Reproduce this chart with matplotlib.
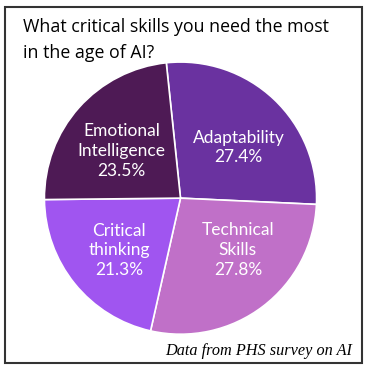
import matplotlib
matplotlib.use("Agg")
import matplotlib.pyplot as plt
from matplotlib.patches import Rectangle

# survey results, clockwise from the top
skills = ["Adaptability", "Technical\nSkills", "Critical\nthinking", "Emotional\nIntelligence"]
shares = [27.4, 27.8, 21.3, 23.5]
colors = ["#6A32A0", "#C070C8", "#A055F0", "#4E1A55"]

title_lines = ["What critical skills you need the most", "in the age of AI?"]
source = "Data from PHS survey on AI"

fig = plt.figure(figsize=(3.68, 3.70), dpi=100)
fig.patch.set_facecolor("white")

# outer frame
fig.patches.append(Rectangle((0.014, 0.019), 0.970, 0.962, transform=fig.transFigure,
                             fill=False, edgecolor="#333333", linewidth=1.5))

for i, line in enumerate(title_lines):
    fig.text(0.0625, 0.9135 - i * 0.0705, line, fontsize=12.8, family="Open Sans",
             color="black", ha="left", va="baseline")

ax = fig.add_axes([0.117, 0.093, 0.747, 0.743])
labels = [f"{s}\n{v:.1f}%" for s, v in zip(skills, shares)]
wedges, texts = ax.pie(shares, labels=labels, colors=colors, startangle=96,
                       counterclock=False, labeldistance=0.58,
                       wedgeprops=dict(edgecolor="white", linewidth=1.2),
                       textprops=dict(color="white", fontsize=12.5, family="Lato",
                                      ha="center", va="center", linespacing=1.3))

# labels were hand-placed in the original, nudge them a bit
nudges = [(0.03, -0.05), (0.07, 0.08), (0.0, -0.02), (0.0, -0.04)]
for t, (dx, dy) in zip(texts, nudges):
    x, y = t.get_position()
    t.set_position((x + dx, y + dy))

ax.set_xlim(-1.01, 1.01)
ax.set_ylim(-1.01, 1.01)

fig.text(0.957, 0.040, source, fontsize=11.7, family="Liberation Serif", style="italic",
         ha="right", va="baseline", color="black")

fig.savefig("out.png", dpi=100)
